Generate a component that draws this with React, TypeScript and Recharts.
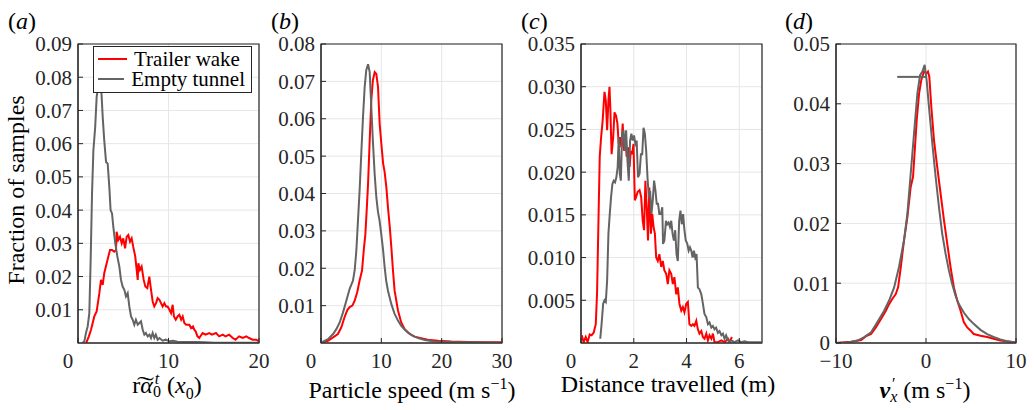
import React from 'react';
import { LineChart, Line, XAxis, YAxis, CartesianGrid, Legend, ReferenceArea } from 'recharts';

type Pt = [number, number];

// (a) r~alpha_0^t (x0)
const aWake: Pt[] = [
  [0.9, 0], [1.2, 0.002], [1.44, 0.004], [1.8, 0.008], [2.06, 0.0095], [2.36, 0.015], [2.54, 0.019],
  [2.73, 0.0175], [2.9, 0.021], [3.17, 0.024], [3.35, 0.026], [3.54, 0.028], [3.76, 0.028], [4.0, 0.0275],
  [4.2, 0.028], [4.27, 0.0335], [4.45, 0.031], [4.64, 0.032], [4.83, 0.03], [5.0, 0.0315], [5.2, 0.0285],
  [5.38, 0.032], [5.56, 0.0325], [5.75, 0.0305], [5.93, 0.0315], [6.1, 0.029], [6.33, 0.026], [6.48, 0.022],
  [6.6, 0.019], [6.67, 0.024], [6.85, 0.022], [7.03, 0.023], [7.26, 0.019], [7.44, 0.017], [7.66, 0.0165],
  [7.88, 0.02], [8.07, 0.016], [8.25, 0.0125], [8.43, 0.011], [8.62, 0.012], [8.8, 0.0135], [9.0, 0.013],
  [9.17, 0.012], [9.35, 0.011], [9.54, 0.012], [9.72, 0.011], [9.9, 0.011], [10.1, 0.01], [10.28, 0.009],
  [10.46, 0.0115], [10.6, 0.008], [10.8, 0.007], [11.0, 0.008], [11.2, 0.0085], [11.4, 0.007], [11.57, 0.008],
  [11.75, 0.006], [11.95, 0.0055], [12.3, 0.0055], [12.5, 0.0045], [12.7, 0.005], [12.85, 0.004], [13.0, 0.0035],
  [13.2, 0.002], [13.4, 0.0015], [13.77, 0.003], [14.1, 0.0025], [14.5, 0.003], [14.8, 0.0025], [15.25, 0.003],
  [15.6, 0.002], [16.0, 0.0025], [16.3, 0.002], [16.7, 0.0025], [17.1, 0.0015], [17.4, 0.001], [17.8, 0.002],
  [18.2, 0.0015], [18.6, 0.002], [18.9, 0.0015], [19.3, 0.001], [19.7, 0.001], [20, 0.0005],
];
const aTunnel: Pt[] = [
  [0.5, 0], [0.7, 0.0005], [0.88, 0.003], [1.07, 0.005], [1.25, 0.009], [1.4, 0.025], [1.55, 0.045],
  [1.7, 0.058], [1.9, 0.065], [2.06, 0.074], [2.2, 0.077], [2.4, 0.079], [2.55, 0.0775], [2.73, 0.068],
  [2.9, 0.061], [3.1, 0.0545], [3.28, 0.054], [3.46, 0.047], [3.6, 0.04], [3.76, 0.039], [3.9, 0.035],
  [4.12, 0.03], [4.35, 0.026], [4.57, 0.023], [4.75, 0.019], [4.93, 0.017], [5.12, 0.016], [5.3, 0.014],
  [5.49, 0.015], [5.67, 0.011], [5.86, 0.008], [6.04, 0.007], [6.22, 0.0055], [6.4, 0.007], [6.6, 0.0055],
  [6.78, 0.006], [6.96, 0.0065], [7.15, 0.004], [7.33, 0.0025], [7.5, 0.003], [7.7, 0.002], [7.9, 0.0025],
  [8.07, 0.0015], [8.25, 0.003], [8.43, 0.0015], [8.6, 0.0025], [8.8, 0.001], [9.0, 0.0015], [9.35, 0.0007],
  [9.7, 0.001], [10.1, 0.0005], [10.5, 0.0007], [11, 0.0004], [12, 0.0003], [13, 0.0003], [14, 0.0002],
  [15, 0.0001], [17, 0.0001], [20, 0.0001],
];

// (b) particle speed
const bWake: Pt[] = [
  [0.33, 0.0002], [1.16, 0.0006], [2, 0.0015], [2.8, 0.0024], [3.37, 0.0042], [3.9, 0.0069], [4.36, 0.0088],
  [4.75, 0.0096], [5.2, 0.01], [5.58, 0.0113], [6.0, 0.0136], [6.4, 0.0167], [6.8, 0.0194], [7.13, 0.0256],
  [7.35, 0.029], [7.6, 0.0363], [7.8, 0.0426], [8.07, 0.0542], [8.34, 0.065], [8.6, 0.0703], [8.9, 0.0725],
  [9.17, 0.072], [9.45, 0.0685], [9.72, 0.0587], [10, 0.0533], [10.3, 0.048], [10.55, 0.0457], [10.83, 0.0417],
  [11.1, 0.0363], [11.4, 0.031], [11.66, 0.0256], [11.93, 0.0194], [12.2, 0.014], [12.76, 0.0087], [13.3, 0.0055],
  [13.87, 0.0037], [14.7, 0.0024], [15.5, 0.0017], [16.6, 0.0013], [17.7, 0.0009], [19.4, 0.0006], [21.6, 0.0004],
  [24.4, 0.0003], [27.1, 0.0002], [30, 0.0002],
];
const bTunnel: Pt[] = [
  [0.17, 0.0002], [1.16, 0.001], [2, 0.0024], [2.54, 0.0037], [3.1, 0.0055], [3.65, 0.0082], [4.2, 0.0113],
  [4.75, 0.0145], [5.3, 0.0167], [5.58, 0.0194], [5.86, 0.0247], [6.13, 0.0328], [6.4, 0.0408], [6.7, 0.0515],
  [6.96, 0.0604], [7.24, 0.0685], [7.5, 0.073], [7.8, 0.0746], [8.07, 0.0725], [8.34, 0.063], [8.6, 0.054],
  [8.9, 0.045], [9.17, 0.039], [9.45, 0.035], [9.7, 0.0328], [10, 0.029], [10.3, 0.0247], [10.55, 0.0203],
  [10.8, 0.0167], [11.1, 0.014], [11.66, 0.0104], [12.2, 0.0078], [12.76, 0.006], [13.3, 0.0046], [13.87, 0.0036],
  [14.4, 0.0028], [15.25, 0.0019], [16.1, 0.0013], [17.2, 0.0008], [18.8, 0.0004], [20.5, 0.0003], [24.4, 0.0002],
  [30, 0.0001],
];

// (c) distance travelled
const cWake: Pt[] = [
  [0.03, 0.0009], [0.1, 0.0001], [0.18, 0.0007], [0.25, 0.0001], [0.33, 0.001], [0.4, 0.0009], [0.48, 0.0012],
  [0.56, 0.0022], [0.61, 0.006], [0.66, 0.014], [0.71, 0.0218], [0.76, 0.024], [0.82, 0.026], [0.89, 0.0294],
  [0.94, 0.0284], [0.99, 0.0249], [1.04, 0.0284], [1.08, 0.03], [1.11, 0.0276], [1.16, 0.0221], [1.22, 0.0241],
  [1.27, 0.027], [1.33, 0.0266], [1.38, 0.0257], [1.43, 0.0233], [1.48, 0.0241], [1.53, 0.0229], [1.58, 0.0257],
  [1.63, 0.0225], [1.68, 0.0241], [1.73, 0.0218], [1.78, 0.0229], [1.84, 0.0206], [1.89, 0.0225], [1.94, 0.0221],
  [1.99, 0.0233], [2.04, 0.0167], [2.09, 0.0171], [2.15, 0.0177], [2.22, 0.0179], [2.28, 0.0171], [2.34, 0.0143],
  [2.39, 0.0132], [2.44, 0.019], [2.49, 0.0159], [2.54, 0.012], [2.59, 0.0182], [2.65, 0.0128], [2.7, 0.0151],
  [2.75, 0.0136], [2.8, 0.0128], [2.85, 0.01], [2.91, 0.0096], [2.97, 0.0104], [3.04, 0.0089], [3.1, 0.0096],
  [3.16, 0.0085], [3.23, 0.0081], [3.29, 0.0069], [3.35, 0.0085], [3.42, 0.0081], [3.48, 0.0069], [3.54, 0.0077],
  [3.61, 0.0057], [3.67, 0.0065], [3.73, 0.0046], [3.8, 0.0038], [3.86, 0.0042], [3.92, 0.0036], [3.99, 0.0046],
  [4.05, 0.0048], [4.11, 0.0022], [4.18, 0.002], [4.24, 0.0022], [4.3, 0.002], [4.37, 0.0026], [4.43, 0.0016],
  [4.49, 0.0011], [4.56, 0.0014], [4.62, 0.0007], [4.68, 0.0005], [4.75, 0.0011], [4.81, 0.0003], [4.87, 0.0009],
  [4.94, 0.0005], [5.0, 0.0011], [5.06, 0.0001], [5.19, 0.0001], [5.32, 0.0003], [5.44, 0.0001], [5.57, 0.0005],
  [5.63, 0.0001], [5.72, 0.0007],
];
const cTunnel: Pt[] = [
  [0.73, 0.0005], [0.78, 0.0022], [0.84, 0.0046], [0.89, 0.005], [0.94, 0.0048], [0.99, 0.0073], [1.04, 0.0128],
  [1.09, 0.0151], [1.14, 0.0171], [1.19, 0.0186], [1.24, 0.019], [1.29, 0.0188], [1.34, 0.0194], [1.39, 0.0206],
  [1.43, 0.0241], [1.47, 0.0198], [1.51, 0.019], [1.56, 0.0245], [1.61, 0.0249], [1.66, 0.0225], [1.71, 0.0249],
  [1.76, 0.0214], [1.81, 0.019], [1.86, 0.0237], [1.91, 0.0245], [1.96, 0.0237], [2.01, 0.0243], [2.06, 0.0233],
  [2.11, 0.0237], [2.16, 0.0194], [2.22, 0.0198], [2.27, 0.0221], [2.32, 0.0221], [2.37, 0.0252], [2.42, 0.0245],
  [2.47, 0.0225], [2.52, 0.0194], [2.57, 0.0171], [2.62, 0.0178], [2.67, 0.0151], [2.72, 0.0167], [2.77, 0.019],
  [2.82, 0.0179], [2.87, 0.0163], [2.92, 0.0163], [2.97, 0.0151], [3.03, 0.0151], [3.08, 0.0159], [3.11, 0.0116],
  [3.16, 0.012], [3.22, 0.0143], [3.27, 0.0139], [3.32, 0.0141], [3.37, 0.0136], [3.42, 0.0143], [3.47, 0.0128],
  [3.52, 0.012], [3.57, 0.0132], [3.62, 0.0104], [3.67, 0.0096], [3.72, 0.0143], [3.77, 0.0155], [3.82, 0.0139],
  [3.87, 0.0151], [3.92, 0.0132], [3.97, 0.012], [4.03, 0.0116], [4.08, 0.0108], [4.13, 0.0112], [4.18, 0.0108],
  [4.23, 0.01], [4.28, 0.0108], [4.33, 0.01], [4.38, 0.0104], [4.43, 0.0065], [4.49, 0.0063], [4.56, 0.0057],
  [4.62, 0.0046], [4.68, 0.0034], [4.75, 0.003], [4.81, 0.0022], [4.87, 0.0024], [4.94, 0.0018], [5.0, 0.002],
  [5.06, 0.0016], [5.12, 0.0018], [5.19, 0.0012], [5.25, 0.0014], [5.32, 0.0009], [5.38, 0.0011], [5.44, 0.0005],
  [5.5, 0.0009], [5.57, 0.0003], [5.63, 0.0001], [5.7, 0.0003], [5.82, 0.0001], [5.95, 0.0003], [6.07, 0.0001],
  [6.2, 0.0002], [6.33, 0.0001], [6.46, 0.0001], [6.58, 0.0001], [6.86, 0.0001],
];

// (d) v'x
const dWake: Pt[] = [
  [-10, 0], [-8.3, 0.0002], [-7.2, 0.0005], [-6.7, 0.0011], [-6.1, 0.0015], [-5.57, 0.0026], [-5.0, 0.004],
  [-4.46, 0.0054], [-4.1, 0.0065], [-3.73, 0.0074], [-3.36, 0.0082], [-3.1, 0.0093], [-2.8, 0.0127], [-2.44, 0.0172],
  [-2.07, 0.021], [-1.7, 0.0261], [-1.44, 0.0278], [-1.25, 0.0322], [-1.03, 0.0373], [-0.77, 0.0417], [-0.52, 0.044],
  [-0.22, 0.0454], [0.04, 0.0451], [0.22, 0.0454], [0.37, 0.0445], [0.59, 0.0395], [0.89, 0.0339], [1.25, 0.0294],
  [1.62, 0.025], [2.0, 0.0205], [2.36, 0.0166], [2.73, 0.0127], [3.1, 0.0093], [3.47, 0.0071], [3.84, 0.0054],
  [4.2, 0.0035], [4.58, 0.0026], [4.94, 0.0021], [5.3, 0.0015], [6.05, 0.0012], [6.8, 0.001], [7.5, 0.0007],
  [8.26, 0.0004], [9.37, 0.0002], [10, 0.0001],
];
const dTunnel: Pt[] = [
  [-10, 0], [-8.7, 0.0001], [-7.6, 0.0004], [-6.86, 0.001], [-6.1, 0.0018], [-5.4, 0.0035], [-4.65, 0.0054],
  [-4.1, 0.0071], [-3.54, 0.0093], [-3.0, 0.0127], [-2.44, 0.0172], [-2.07, 0.0216], [-1.7, 0.0283], [-1.33, 0.035],
  [-0.96, 0.0417], [-0.66, 0.0448], [-0.4, 0.0454], [-0.15, 0.0465], [0.07, 0.044], [0.33, 0.0395], [0.7, 0.0334],
  [1.07, 0.0278], [1.44, 0.0227], [1.8, 0.0183], [2.18, 0.0149], [2.55, 0.0121], [2.9, 0.0099], [3.28, 0.0079],
  [3.65, 0.0065], [4.2, 0.0051], [4.76, 0.004], [5.3, 0.0032], [6.05, 0.0022], [6.8, 0.0015], [7.5, 0.001],
  [8.26, 0.0006], [9.0, 0.0003], [10, 0.0001],
];
const dMark: Pt[] = [[-3.2, 0.0445], [0.05, 0.0445]];

const aXTicks = [0, 10, 20];
const aYTicks = [0.01, 0.02, 0.03, 0.04, 0.05, 0.06, 0.07, 0.08, 0.09];
const bXTicks = [0, 10, 20, 30];
const bYTicks = [0.01, 0.02, 0.03, 0.04, 0.05, 0.06, 0.07, 0.08];
const cXTicks = [0, 2, 4, 6];
const cYTicks = [0.005, 0.01, 0.015, 0.02, 0.025, 0.03, 0.035];
const dXTicks = [-10, 0, 10];
const dYTicks = [0, 0.01, 0.02, 0.03, 0.04, 0.05];

const legendOrder = ['Trailer wake', 'Empty tunnel'];

const WAKE = '#ff0000';
const TUNNEL = '#646464';
const AXIS = '#262626';
const GRID = '#e6e6e6';
const FONT = "'Liberation Serif', 'DejaVu Serif', serif";
const H = 410;
const TOP = 44;
const BOTTOM = 343;

const rows = (pts: Pt[]) => pts.map(([x, y]) => ({ x, y }));

interface Series {
  name: string;
  color: string;
  pts: Pt[];
  hideLegend?: boolean;
}

interface PanelProps {
  left: number;
  width: number;
  yWidth: number;
  right: number;
  xDomain: [number, number];
  xTicks: number[];
  yDomain: [number, number];
  yTicks: number[];
  yFormat: (v: number) => string;
  series: Series[];
  shiftZero?: boolean;
  legend?: boolean;
}

const XTick = (props: any) => {
  const { x, y, payload, shiftZero } = props;
  const v = payload.value as number;
  const dx = shiftZero && v === 0 ? -10 : 0;
  return (
    <text x={x + dx} y={y} dy={25} textAnchor="middle" fill={AXIS} fontSize={21} fontFamily={FONT}>
      {v < 0 ? '\u2212' + Math.abs(v) : String(v)}
    </text>
  );
};

const LegendBox = (props: any) => {
  const items = [...(props.payload || [])].sort(
    (a: any, b: any) => legendOrder.indexOf(a.value) - legendOrder.indexOf(b.value)
  );
  return (
    <div
      style={{
        border: `1px solid ${AXIS}`,
        background: '#fff',
        padding: '2px 6px 3px 4px',
        fontFamily: FONT,
        fontSize: 21,
        lineHeight: '20px',
        color: '#000',
        boxSizing: 'border-box',
        width: 159,
      }}
    >
      {items.map((p: any) => (
        <div key={p.value} style={{ display: 'flex', alignItems: 'center', whiteSpace: 'nowrap' }}>
          <span style={{ display: 'inline-block', width: 29, height: 2, background: p.color, marginRight: 7 }} />
          {p.value}
        </div>
      ))}
    </div>
  );
};

const Panel = (p: PanelProps) => (
  <div style={{ position: 'absolute', left: p.left, top: 0 }}>
    <LineChart width={p.width} height={H} margin={{ top: TOP, right: p.right, bottom: 0, left: 0 }}>
      <CartesianGrid stroke={GRID} strokeWidth={1} />
      <XAxis
        dataKey="x"
        type="number"
        domain={p.xDomain}
        ticks={p.xTicks}
        allowDataOverflow
        height={H - BOTTOM}
        stroke={AXIS}
        tickSize={-5}
        tickMargin={5}
        tick={<XTick shiftZero={p.shiftZero} />}
      />
      <XAxis
        xAxisId="top"
        orientation="top"
        type="number"
        domain={p.xDomain}
        ticks={p.xTicks}
        allowDataOverflow
        height={0}
        stroke={AXIS}
        tickSize={-5}
        tick={false}
      />
      <YAxis
        type="number"
        domain={p.yDomain}
        ticks={p.yTicks}
        allowDataOverflow
        width={p.yWidth}
        stroke={AXIS}
        tickSize={-5}
        tickMargin={11}
        tickFormatter={p.yFormat}
        tick={{ fill: AXIS, fontSize: 21, fontFamily: FONT }}
      />
      <YAxis
        yAxisId="right"
        orientation="right"
        type="number"
        domain={p.yDomain}
        ticks={p.yTicks}
        allowDataOverflow
        width={0}
        stroke={AXIS}
        tickSize={-5}
        tick={false}
      />
      {p.series.map((s) => (
        <Line
          key={s.name}
          name={s.name}
          data={rows(s.pts)}
          dataKey="y"
          type="linear"
          stroke={s.color}
          strokeWidth={2}
          dot={false}
          activeDot={false}
          legendType={s.hideLegend ? 'none' : 'line'}
          isAnimationActive={false}
        />
      ))}
      <ReferenceArea
        x1={p.xDomain[0]}
        x2={p.xDomain[1]}
        y1={p.yDomain[0]}
        y2={p.yDomain[1]}
        fill="none"
        fillOpacity={0}
        stroke={AXIS}
        strokeWidth={1.2}
        ifOverflow="visible"
      />
      {p.legend && (
        <Legend
          layout="horizontal"
          align="center"
          verticalAlign="middle"
          content={LegendBox}
          wrapperStyle={{ position: 'absolute', left: 93, top: 46, width: 159, height: 45 }}
        />
      )}
    </LineChart>
  </div>
);

const txt: React.CSSProperties = {
  position: 'absolute',
  fontFamily: FONT,
  fontSize: 24,
  lineHeight: '24px',
  color: '#000',
  whiteSpace: 'nowrap',
};

const Title = ({ cx, children }: { cx: number; children: React.ReactNode }) => (
  <div style={{ ...txt, left: cx - 150, width: 300, top: 372, textAlign: 'center' }}>{children}</div>
);

const stack: React.CSSProperties = {
  display: 'inline-flex',
  flexDirection: 'column',
  fontSize: 16,
  lineHeight: '13px',
  verticalAlign: '9px',
};

const f2 = (v: number) => v.toFixed(2);
const f3 = (v: number) => v.toFixed(3);
const fd = (v: number) => (v === 0 ? '0' : v.toFixed(2));

export default function App() {
  return (
    <div style={{ position: 'absolute', left: 0, top: 0, width: 1034, height: H, background: '#fff', overflow: 'hidden' }}>
      <Panel
        left={0}
        width={270}
        yWidth={78}
        right={11}
        xDomain={[0, 20]}
        xTicks={aXTicks}
        yDomain={[0, 0.09]}
        yTicks={aYTicks}
        yFormat={f2}
        shiftZero
        legend
        series={[
          { name: 'Trailer wake', color: WAKE, pts: aWake },
          { name: 'Empty tunnel', color: TUNNEL, pts: aTunnel },
        ]}
      />
      <Panel
        left={262}
        width={250}
        yWidth={59}
        right={10}
        xDomain={[0, 30]}
        xTicks={bXTicks}
        yDomain={[0, 0.08]}
        yTicks={bYTicks}
        yFormat={f2}
        shiftZero
        series={[
          { name: 'Trailer wake', color: WAKE, pts: bWake },
          { name: 'Empty tunnel', color: TUNNEL, pts: bTunnel },
        ]}
      />
      <Panel
        left={512}
        width={262}
        yWidth={69}
        right={12}
        xDomain={[0, 6.86]}
        xTicks={cXTicks}
        yDomain={[0, 0.035]}
        yTicks={cYTicks}
        yFormat={f3}
        shiftZero
        series={[
          { name: 'Trailer wake', color: WAKE, pts: cWake },
          { name: 'Empty tunnel', color: TUNNEL, pts: cTunnel },
        ]}
      />
      <Panel
        left={774}
        width={260}
        yWidth={62}
        right={18}
        xDomain={[-10, 10]}
        xTicks={dXTicks}
        yDomain={[0, 0.05]}
        yTicks={dYTicks}
        yFormat={fd}
        series={[
          { name: 'Trailer wake', color: WAKE, pts: dWake },
          { name: 'Empty tunnel', color: TUNNEL, pts: dTunnel },
          { name: 'mark', color: TUNNEL, pts: dMark, hideLegend: true },
        ]}
      />

      <div style={{ ...txt, left: 8, top: 9 }}>(<i>a</i>)</div>
      <div style={{ ...txt, left: 271, top: 9 }}>(<i>b</i>)</div>
      <div style={{ ...txt, left: 521, top: 9 }}>(<i>c</i>)</div>
      <div style={{ ...txt, left: 785, top: 9 }}>(<i>d</i>)</div>

      <div
        style={{
          ...txt,
          left: 16 - 150,
          top: 190 - 12,
          width: 300,
          textAlign: 'center',
          transform: 'rotate(-90deg)',
        }}
      >
        Fraction of samples
      </div>

      <Title cx={167}>
        <span>
          {'r\u0360'}
          <i>α</i>
        </span>
        <span style={stack}>
          <i>t</i>
          <span>0</span>
        </span>
        {' ('}
        <i>x</i>
        <sub style={{ fontSize: 16 }}>0</sub>)
      </Title>
      <Title cx={412}>
        Particle speed (m s<sup style={{ fontSize: 16 }}>−1</sup>)
      </Title>
      <Title cx={668}>Distance travelled (m)</Title>
      <Title cx={925}>
        <b>
          <i>v</i>
        </b>
        <span style={stack}>
          <span>′</span>
          <i>x</i>
        </span>
        {' (m s'}
        <sup style={{ fontSize: 16 }}>−1</sup>)
      </Title>
    </div>
  );
}
